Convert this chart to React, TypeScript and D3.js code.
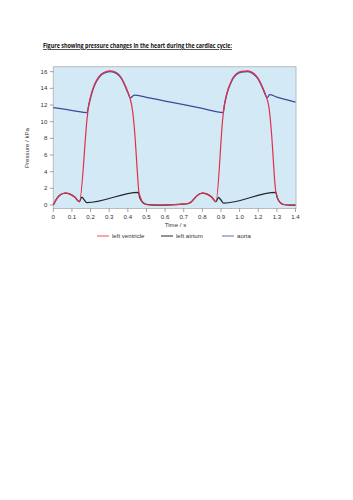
import { useEffect, useRef } from 'react';
import * as d3 from 'd3';

// time is in tick-index units (the axis has evenly spaced ticks labelled 0 … 1.0, 1.2, 1.3, 1.4)
const xTickValues = [0, 0.1, 0.2, 0.3, 0.4, 0.5, 0.6, 0.7, 0.8, 0.9, 1.0, 1.1, 1.2, 1.3];
const xTickLabels = ['0', '0.1', '0.2', '0.3', '0.4', '0.5', '0.6', '0.7', '0.8', '0.9', '1.0', '1.2', '1.3', '1.4'];
const yTickValues = [0, 2, 4, 6, 8, 10, 12, 14, 16];

const ventricleT = [
  0, 0.02, 0.04, 0.065, 0.09, 0.115, 0.14, 0.182, 0.19, 0.2, 0.212, 0.224, 0.24, 0.26, 0.28, 0.305,
  0.33, 0.35, 0.37, 0.385, 0.4, 0.412, 0.422, 0.432, 0.44, 0.448, 0.454, 0.458, 0.465, 0.475, 0.49,
  0.51, 0.55, 0.62, 0.68, 0.72, 0.74, 0.76, 0.78, 0.8, 0.825, 0.85, 0.873, 0.91, 0.918, 0.927, 0.938,
  0.95, 0.965, 0.985, 1.01, 1.04, 1.065, 1.085, 1.105, 1.12, 1.135, 1.146, 1.157, 1.166, 1.174, 1.182,
  1.188, 1.193, 1.2, 1.21, 1.225, 1.245, 1.27, 1.3
];
const ventricleP = [
  0, 0.8, 1.25, 1.42, 1.3, 0.95, 0.4, 10.5, 12.0, 13.0, 13.9, 14.6, 15.25, 15.75, 16.0, 16.1,
  16.0, 15.7, 15.1, 14.4, 13.6, 12.8, 11.8, 10.0, 7.8, 5.0, 3.0, 1.8, 1.1, 0.5, 0.15,
  0.03, 0.0, 0.02, 0.08, 0.15, 0.35, 0.85, 1.25, 1.42, 1.3, 0.95, 0.4, 10.5, 12.0, 13.0, 13.9,
  14.6, 15.3, 15.8, 16.05, 16.1, 15.95, 15.6, 15.0, 14.3, 13.5, 12.8, 11.8, 10.0, 7.8, 5.0,
  3.0, 1.8, 1.1, 0.5, 0.15, 0.03, 0.0, 0.0
];

const atriumT = [
  0, 0.02, 0.04, 0.065, 0.09, 0.115, 0.14, 0.153, 0.16, 0.166, 0.18, 0.457, 0.462, 0.47, 0.48, 0.49,
  0.51, 0.55, 0.62, 0.68, 0.72, 0.74, 0.76, 0.78, 0.8, 0.825, 0.85, 0.873, 0.887, 0.894, 0.9, 0.914,
  1.195, 1.2, 1.208, 1.218, 1.228, 1.245, 1.27, 1.3
];
const atriumP = [
  0, 0.8, 1.25, 1.42, 1.3, 0.95, 0.4, 0.95, 0.8, 0.62, 0.28, 1.52, 1.05, 0.6, 0.3, 0.15,
  0.04, 0.0, 0.02, 0.08, 0.15, 0.35, 0.85, 1.25, 1.42, 1.3, 0.95, 0.4, 0.92, 0.75, 0.6, 0.22,
  1.52, 1.05, 0.6, 0.3, 0.12, 0.03, 0.0, 0.0
];

const aortaT = [
  0, 0.06, 0.12, 0.18, 0.19, 0.2, 0.212, 0.224, 0.24, 0.26, 0.28, 0.305, 0.33, 0.35, 0.37, 0.385,
  0.4, 0.414, 0.434, 0.5, 0.6, 0.7, 0.8, 0.912, 0.918, 0.927, 0.938, 0.95, 0.965, 0.985, 1.01, 1.04,
  1.065, 1.085, 1.105, 1.12, 1.135, 1.148, 1.161, 1.2, 1.25, 1.3
];
const aortaP = [
  11.7, 11.5, 11.28, 11.08, 11.9, 12.85, 13.8, 14.5, 15.15, 15.65, 15.9, 16.0, 15.9, 15.6, 15.0, 14.3,
  13.5, 12.85, 13.2, 12.92, 12.48, 12.05, 11.6, 11.1, 11.9, 12.9, 13.8, 14.5, 15.2, 15.7, 15.95, 16.0,
  15.85, 15.5, 14.9, 14.2, 13.4, 12.85, 13.25, 12.95, 12.65, 12.35
];

const series = [
  { label: 'left atrium', t: atriumT, p: atriumP, color: '#23262c', width: 1.25 },
  { label: 'aorta', t: aortaT, p: aortaP, color: '#3a4c9a', width: 1.3 },
  { label: 'left ventricle', t: ventricleT, p: ventricleP, color: '#e0304c', width: 1.2 }
];

const legendItems = [
  { label: 'left ventricle', color: '#e3506a', x: 97 },
  { label: 'left atrium', color: '#23262c', x: 161 },
  { label: 'aorta', color: '#5a6fb8', x: 222 }
];

export default function App() {
  const svgRef = useRef<SVGSVGElement>(null);

  useEffect(() => {
    const svg = d3.select(svgRef.current);
    svg.selectAll('*').remove();

    const left = 53.3;
    const right = 295.5;
    const top = 66.7;
    const bottom = 208.5;
    const font = '"Liberation Sans", Arial, sans-serif';

    const x = d3.scaleLinear().domain([0, 1.3]).range([left, right]);
    const y = d3.scaleLinear().domain([-0.42, 16.6]).range([bottom, top]);

    svg.append('rect')
      .attr('width', 353)
      .attr('height', 500)
      .attr('fill', '#fff');

    // title
    svg.append('text')
      .attr('x', 43)
      .attr('y', 48)
      .attr('textLength', 189)
      .attr('lengthAdjust', 'spacingAndGlyphs')
      .style('font-family', '"Open Sans", "Liberation Sans", sans-serif')
      .style('font-size', '7.2px')
      .style('font-weight', 'bold')
      .style('text-decoration', 'underline')
      .attr('fill', '#111')
      .text('Figure showing pressure changes in the heart during the cardiac cycle:');

    // plot background
    svg.append('rect')
      .attr('x', left)
      .attr('y', top)
      .attr('width', right - left + 0.5)
      .attr('height', bottom - top)
      .attr('fill', '#d4e9f6')
      .attr('stroke', '#b8bcc0')
      .attr('stroke-width', 1);

    const g = svg.append('g');

    series.forEach(s => {
      const pts = s.t.map((t, i) => [t, s.p[i]] as [number, number]);
      const line = d3.line<[number, number]>()
        .x(d => x(d[0]))
        .y(d => y(d[1]))
        .curve(d3.curveMonotoneX);
      g.append('path')
        .datum(pts)
        .attr('d', line)
        .attr('fill', 'none')
        .attr('stroke', s.color)
        .attr('stroke-width', s.width)
        .attr('stroke-linejoin', 'round');
    });

    // y axis
    const yAxis = svg.append('g');
    yTickValues.forEach(v => {
      yAxis.append('line')
        .attr('x1', left - 3.5)
        .attr('x2', left)
        .attr('y1', y(v))
        .attr('y2', y(v))
        .attr('stroke', '#666')
        .attr('stroke-width', 0.6);
      yAxis.append('text')
        .attr('x', left - 6)
        .attr('y', y(v) + 2.1)
        .attr('text-anchor', 'end')
        .style('font-family', font)
        .style('font-size', '6.1px')
        .attr('fill', '#333')
        .text(v);
    });

    // x axis
    const xAxis = svg.append('g');
    xTickValues.forEach((v, i) => {
      xAxis.append('line')
        .attr('x1', x(v))
        .attr('x2', x(v))
        .attr('y1', bottom)
        .attr('y2', bottom + 3.5)
        .attr('stroke', '#666')
        .attr('stroke-width', 0.6);
      xAxis.append('text')
        .attr('x', x(v))
        .attr('y', 219)
        .attr('text-anchor', 'middle')
        .style('font-family', font)
        .style('font-size', '6.1px')
        .attr('fill', '#333')
        .text(xTickLabels[i]);
    });

    svg.append('text')
      .attr('x', 175.5)
      .attr('y', 226.5)
      .attr('text-anchor', 'middle')
      .style('font-family', font)
      .style('font-size', '6.1px')
      .attr('fill', '#333')
      .text('Time / s');

    svg.append('text')
      .attr('transform', 'translate(29,148) rotate(-90)')
      .attr('text-anchor', 'middle')
      .style('font-family', font)
      .style('font-size', '6.1px')
      .attr('fill', '#333')
      .text('Pressure / kPa');

    // legend
    legendItems.forEach(item => {
      svg.append('line')
        .attr('x1', item.x)
        .attr('x2', item.x + 12)
        .attr('y1', 236)
        .attr('y2', 236)
        .attr('stroke', item.color)
        .attr('stroke-width', 1);
      svg.append('text')
        .attr('x', item.x + 15)
        .attr('y', 238)
        .style('font-family', font)
        .style('font-size', '6.1px')
        .attr('fill', '#333')
        .text(item.label);
    });
  }, []);

  return (
    <svg
      ref={svgRef}
      width={353}
      height={500}
      style={{ position: 'absolute', left: 0, top: 0 }}
    />
  );
}
